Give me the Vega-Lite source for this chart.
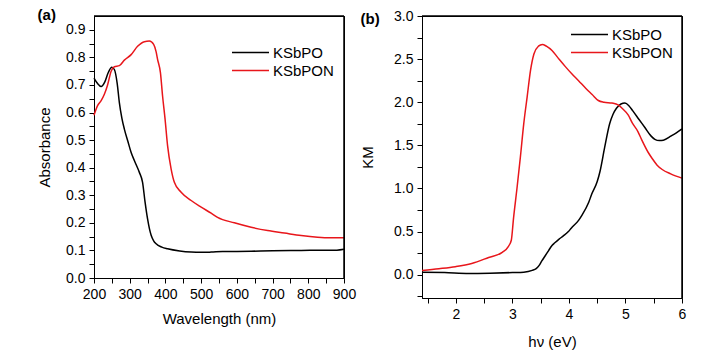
{
  "$schema": "https://vega.github.io/schema/vega-lite/v6.json",
  "background": "white",
  "padding": {"left": 37, "top": 7, "right": 5, "bottom": 5},
  "spacing": 3,
  "config": {
    "view": {"stroke": "#000000", "strokeWidth": 1},
    "axis": {
      "zindex": 0,
      "grid": false,
      "domainColor": "#000000",
      "tickColor": "#000000",
      "labelColor": "#000000",
      "titleColor": "#000000",
      "labelFont": "Liberation Sans",
      "titleFont": "Liberation Sans",
      "labelFontSize": 14,
      "titleFontSize": 15,
      "titleFontWeight": "normal",
      "labelPadding": 4,
      "labelOverlap": false,
      "labelFlush": false,
      "ticks": true,
      "tickSize": 5,
      "tickWidth": 1
    },
    "legend": {
      "orient": "none",
      "labelFont": "Liberation Sans",
      "labelFontSize": 15,
      "labelColor": "#000000",
      "symbolType": "stroke",
      "symbolSize": 1369,
      "symbolStrokeWidth": 1.5,
      "labelOffset": 3,
      "rowPadding": 2,
      "clipHeight": 15,
      "padding": 0,
      "title": null
    },
    "title": {"font": "Liberation Sans", "fontSize": 15, "fontWeight": "bold", "color": "#000000", "anchor": "start", "frame": "bounds", "offset": 0, "baseline": "alphabetic"}
  },
  "datasets": {
    "uv": [
      {"wl": 200, "A": 0.725, "sample": "KSbPO"},
      {"wl": 210, "A": 0.705, "sample": "KSbPO"},
      {"wl": 220, "A": 0.694, "sample": "KSbPO"},
      {"wl": 230, "A": 0.71, "sample": "KSbPO"},
      {"wl": 240, "A": 0.745, "sample": "KSbPO"},
      {"wl": 250, "A": 0.764, "sample": "KSbPO"},
      {"wl": 257, "A": 0.756, "sample": "KSbPO"},
      {"wl": 265, "A": 0.705, "sample": "KSbPO"},
      {"wl": 271, "A": 0.636, "sample": "KSbPO"},
      {"wl": 278, "A": 0.58, "sample": "KSbPO"},
      {"wl": 285, "A": 0.54, "sample": "KSbPO"},
      {"wl": 295, "A": 0.495, "sample": "KSbPO"},
      {"wl": 304, "A": 0.455, "sample": "KSbPO"},
      {"wl": 315, "A": 0.42, "sample": "KSbPO"},
      {"wl": 327, "A": 0.383, "sample": "KSbPO"},
      {"wl": 336, "A": 0.347, "sample": "KSbPO"},
      {"wl": 343, "A": 0.275, "sample": "KSbPO"},
      {"wl": 350, "A": 0.214, "sample": "KSbPO"},
      {"wl": 355, "A": 0.18, "sample": "KSbPO"},
      {"wl": 360, "A": 0.155, "sample": "KSbPO"},
      {"wl": 367, "A": 0.135, "sample": "KSbPO"},
      {"wl": 374, "A": 0.124, "sample": "KSbPO"},
      {"wl": 390, "A": 0.112, "sample": "KSbPO"},
      {"wl": 406, "A": 0.106, "sample": "KSbPO"},
      {"wl": 440, "A": 0.098, "sample": "KSbPO"},
      {"wl": 472, "A": 0.094, "sample": "KSbPO"},
      {"wl": 500, "A": 0.093, "sample": "KSbPO"},
      {"wl": 528, "A": 0.094, "sample": "KSbPO"},
      {"wl": 560, "A": 0.096, "sample": "KSbPO"},
      {"wl": 640, "A": 0.097, "sample": "KSbPO"},
      {"wl": 700, "A": 0.099, "sample": "KSbPO"},
      {"wl": 780, "A": 0.1, "sample": "KSbPO"},
      {"wl": 850, "A": 0.101, "sample": "KSbPO"},
      {"wl": 880, "A": 0.101, "sample": "KSbPO"},
      {"wl": 900, "A": 0.104, "sample": "KSbPO"},
      {"wl": 200, "A": 0.59, "sample": "KSbPON"},
      {"wl": 210, "A": 0.625, "sample": "KSbPON"},
      {"wl": 220, "A": 0.643, "sample": "KSbPON"},
      {"wl": 229, "A": 0.666, "sample": "KSbPON"},
      {"wl": 238, "A": 0.7, "sample": "KSbPON"},
      {"wl": 248, "A": 0.75, "sample": "KSbPON"},
      {"wl": 257, "A": 0.766, "sample": "KSbPON"},
      {"wl": 271, "A": 0.77, "sample": "KSbPON"},
      {"wl": 285, "A": 0.79, "sample": "KSbPON"},
      {"wl": 304, "A": 0.81, "sample": "KSbPON"},
      {"wl": 322, "A": 0.84, "sample": "KSbPON"},
      {"wl": 341, "A": 0.857, "sample": "KSbPON"},
      {"wl": 355, "A": 0.859, "sample": "KSbPON"},
      {"wl": 367, "A": 0.847, "sample": "KSbPON"},
      {"wl": 374, "A": 0.82, "sample": "KSbPON"},
      {"wl": 378, "A": 0.793, "sample": "KSbPON"},
      {"wl": 386, "A": 0.745, "sample": "KSbPON"},
      {"wl": 392, "A": 0.66, "sample": "KSbPON"},
      {"wl": 399, "A": 0.576, "sample": "KSbPON"},
      {"wl": 406, "A": 0.48, "sample": "KSbPON"},
      {"wl": 416, "A": 0.395, "sample": "KSbPON"},
      {"wl": 425, "A": 0.347, "sample": "KSbPON"},
      {"wl": 444, "A": 0.311, "sample": "KSbPON"},
      {"wl": 472, "A": 0.281, "sample": "KSbPON"},
      {"wl": 500, "A": 0.257, "sample": "KSbPON"},
      {"wl": 528, "A": 0.235, "sample": "KSbPON"},
      {"wl": 546, "A": 0.22, "sample": "KSbPON"},
      {"wl": 593, "A": 0.2, "sample": "KSbPON"},
      {"wl": 640, "A": 0.184, "sample": "KSbPON"},
      {"wl": 686, "A": 0.172, "sample": "KSbPON"},
      {"wl": 733, "A": 0.163, "sample": "KSbPON"},
      {"wl": 780, "A": 0.154, "sample": "KSbPON"},
      {"wl": 826, "A": 0.148, "sample": "KSbPON"},
      {"wl": 860, "A": 0.146, "sample": "KSbPON"},
      {"wl": 900, "A": 0.146, "sample": "KSbPON"}
    ],
    "km": [
      {"E": 1.4, "KM": 0.03, "sample": "KSbPO"},
      {"E": 1.8, "KM": 0.025, "sample": "KSbPO"},
      {"E": 2.23, "KM": 0.015, "sample": "KSbPO"},
      {"E": 2.6, "KM": 0.018, "sample": "KSbPO"},
      {"E": 3.0, "KM": 0.025, "sample": "KSbPO"},
      {"E": 3.2, "KM": 0.03, "sample": "KSbPO"},
      {"E": 3.35, "KM": 0.05, "sample": "KSbPO"},
      {"E": 3.42, "KM": 0.07, "sample": "KSbPO"},
      {"E": 3.47, "KM": 0.105, "sample": "KSbPO"},
      {"E": 3.52, "KM": 0.16, "sample": "KSbPO"},
      {"E": 3.58, "KM": 0.22, "sample": "KSbPO"},
      {"E": 3.64, "KM": 0.28, "sample": "KSbPO"},
      {"E": 3.7, "KM": 0.34, "sample": "KSbPO"},
      {"E": 3.75, "KM": 0.37, "sample": "KSbPO"},
      {"E": 3.82, "KM": 0.41, "sample": "KSbPO"},
      {"E": 3.9, "KM": 0.45, "sample": "KSbPO"},
      {"E": 3.99, "KM": 0.5, "sample": "KSbPO"},
      {"E": 4.04, "KM": 0.54, "sample": "KSbPO"},
      {"E": 4.17, "KM": 0.63, "sample": "KSbPO"},
      {"E": 4.22, "KM": 0.68, "sample": "KSbPO"},
      {"E": 4.35, "KM": 0.84, "sample": "KSbPO"},
      {"E": 4.4, "KM": 0.93, "sample": "KSbPO"},
      {"E": 4.5, "KM": 1.08, "sample": "KSbPO"},
      {"E": 4.55, "KM": 1.2, "sample": "KSbPO"},
      {"E": 4.63, "KM": 1.47, "sample": "KSbPO"},
      {"E": 4.72, "KM": 1.75, "sample": "KSbPO"},
      {"E": 4.78, "KM": 1.86, "sample": "KSbPO"},
      {"E": 4.84, "KM": 1.93, "sample": "KSbPO"},
      {"E": 4.92, "KM": 1.98, "sample": "KSbPO"},
      {"E": 4.99, "KM": 1.99, "sample": "KSbPO"},
      {"E": 5.06, "KM": 1.96, "sample": "KSbPO"},
      {"E": 5.13, "KM": 1.9, "sample": "KSbPO"},
      {"E": 5.24, "KM": 1.8, "sample": "KSbPO"},
      {"E": 5.34, "KM": 1.71, "sample": "KSbPO"},
      {"E": 5.45, "KM": 1.61, "sample": "KSbPO"},
      {"E": 5.52, "KM": 1.57, "sample": "KSbPO"},
      {"E": 5.6, "KM": 1.555, "sample": "KSbPO"},
      {"E": 5.67, "KM": 1.56, "sample": "KSbPO"},
      {"E": 5.81, "KM": 1.61, "sample": "KSbPO"},
      {"E": 5.9, "KM": 1.645, "sample": "KSbPO"},
      {"E": 6.0, "KM": 1.69, "sample": "KSbPO"},
      {"E": 1.4, "KM": 0.05, "sample": "KSbPON"},
      {"E": 1.7, "KM": 0.07, "sample": "KSbPON"},
      {"E": 1.99, "KM": 0.093, "sample": "KSbPON"},
      {"E": 2.28, "KM": 0.13, "sample": "KSbPON"},
      {"E": 2.58, "KM": 0.2, "sample": "KSbPON"},
      {"E": 2.82, "KM": 0.26, "sample": "KSbPON"},
      {"E": 2.93, "KM": 0.33, "sample": "KSbPON"},
      {"E": 2.98, "KM": 0.4, "sample": "KSbPON"},
      {"E": 3.02, "KM": 0.66, "sample": "KSbPON"},
      {"E": 3.08, "KM": 1.0, "sample": "KSbPON"},
      {"E": 3.14, "KM": 1.36, "sample": "KSbPON"},
      {"E": 3.2, "KM": 1.75, "sample": "KSbPON"},
      {"E": 3.26, "KM": 2.06, "sample": "KSbPON"},
      {"E": 3.32, "KM": 2.37, "sample": "KSbPON"},
      {"E": 3.38, "KM": 2.56, "sample": "KSbPON"},
      {"E": 3.46, "KM": 2.65, "sample": "KSbPON"},
      {"E": 3.53, "KM": 2.67, "sample": "KSbPON"},
      {"E": 3.6, "KM": 2.65, "sample": "KSbPON"},
      {"E": 3.7, "KM": 2.6, "sample": "KSbPON"},
      {"E": 3.8, "KM": 2.52, "sample": "KSbPON"},
      {"E": 3.94, "KM": 2.41, "sample": "KSbPON"},
      {"E": 4.05, "KM": 2.33, "sample": "KSbPON"},
      {"E": 4.17, "KM": 2.25, "sample": "KSbPON"},
      {"E": 4.3, "KM": 2.16, "sample": "KSbPON"},
      {"E": 4.41, "KM": 2.09, "sample": "KSbPON"},
      {"E": 4.52, "KM": 2.02, "sample": "KSbPON"},
      {"E": 4.62, "KM": 2.0, "sample": "KSbPON"},
      {"E": 4.76, "KM": 1.99, "sample": "KSbPON"},
      {"E": 4.87, "KM": 1.97, "sample": "KSbPON"},
      {"E": 4.94, "KM": 1.93, "sample": "KSbPON"},
      {"E": 5.05, "KM": 1.85, "sample": "KSbPON"},
      {"E": 5.12, "KM": 1.76, "sample": "KSbPON"},
      {"E": 5.22, "KM": 1.66, "sample": "KSbPON"},
      {"E": 5.29, "KM": 1.56, "sample": "KSbPON"},
      {"E": 5.4, "KM": 1.42, "sample": "KSbPON"},
      {"E": 5.47, "KM": 1.35, "sample": "KSbPON"},
      {"E": 5.56, "KM": 1.27, "sample": "KSbPON"},
      {"E": 5.65, "KM": 1.22, "sample": "KSbPON"},
      {"E": 5.8, "KM": 1.17, "sample": "KSbPON"},
      {"E": 6.0, "KM": 1.12, "sample": "KSbPON"}
    ]
  },
  "resolve": {"scale": {"color": "independent"}, "legend": {"color": "independent"}},
  "hconcat": [
    {
      "width": 250,
      "height": 262,
      "title": {"text": "(a)", "dy": 12},
      "resolve": {"scale": {"x": "independent", "y": "independent"}, "axis": {"x": "independent", "y": "independent"}},
      "layer": [
        {
          "data": {"name": "uv"},
          "mark": {"type": "line", "interpolate": "monotone", "strokeWidth": 1.5},
          "encoding": {
            "x": {
              "field": "wl", "type": "quantitative",
              "scale": {"domain": [200, 900], "nice": false},
              "axis": {
                "orient": "bottom",
                "title": "Wavelength (nm)", "titlePadding": 10,
                "values": [200, 250, 300, 350, 400, 450, 500, 550, 600, 650, 700, 750, 800, 850, 900],
                "labelExpr": "datum.value % 100 === 0 ? datum.label : ''",
                "format": "d",
                "encode": {"ticks": {"update": {"y2": {"signal": "datum.value % 100 === 0 ? 5 : 3"}}}}
              }
            },
            "y": {
              "field": "A", "type": "quantitative",
              "scale": {"domain": [0, 0.95], "nice": false},
              "axis": {
                "orient": "left",
                "title": "Absorbance", "titlePadding": 13,
                "values": [0, 0.05, 0.1, 0.15, 0.2, 0.25, 0.3, 0.35, 0.4, 0.45, 0.5, 0.55, 0.6, 0.65, 0.7, 0.75, 0.8, 0.85, 0.9],
                "format": ".1f",
                "labelExpr": "abs(datum.value*10 - round(datum.value*10)) < 0.001 ? datum.label : ''",
                "encode": {"ticks": {"update": {"x2": {"signal": "abs(datum.value*10 - round(datum.value*10)) < 0.001 ? -5 : -3"}}}}
              }
            },
            "color": {
              "field": "sample", "type": "nominal",
              "scale": {"domain": ["KSbPO", "KSbPON"], "range": ["#000000", "#e8161b"]},
              "legend": {"legendX": 137, "legendY": 29}
            }
          }
        },
        {
          "data": {"values": [{"top": 0.95, "right": 900}]},
          "mark": {"type": "rule", "color": "#000000", "strokeWidth": 1.5},
          "encoding": {"y": {"field": "top", "type": "quantitative", "scale": {"domain": [0, 0.95], "nice": false}, "axis": null}}
        },
        {
          "data": {"values": [{"top": 0.95, "right": 900}]},
          "mark": {"type": "rule", "color": "#000000", "strokeWidth": 1.5},
          "encoding": {"x": {"field": "right", "type": "quantitative", "scale": {"domain": [200, 900], "nice": false}, "axis": null}}
        }
      ]
    },
    {
      "width": 260,
      "height": 282,
      "title": {"text": "(b)", "dy": 22},
      "resolve": {"scale": {"x": "independent", "y": "independent"}, "axis": {"x": "independent", "y": "independent"}},
      "layer": [
        {
          "data": {"name": "km"},
          "mark": {"type": "line", "interpolate": "monotone", "strokeWidth": 1.5},
          "encoding": {
            "x": {
              "field": "E", "type": "quantitative",
              "scale": {"domain": [1.4, 6], "nice": false, "zero": false},
              "axis": {
                "orient": "bottom",
                "title": "hν (eV)", "titlePadding": 13,
                "values": [1.5, 2, 2.5, 3, 3.5, 4, 4.5, 5, 5.5, 6],
                "labelExpr": "datum.value % 1 === 0 ? format(datum.value, 'd') : ''",
                "encode": {"ticks": {"update": {"y2": {"signal": "datum.value % 1 === 0 ? 5 : 3"}}}}
              }
            },
            "y": {
              "field": "KM", "type": "quantitative",
              "scale": {"domain": [-0.27, 3.0], "nice": false, "zero": false},
              "axis": {
                "orient": "left",
                "title": "KM", "titlePadding": 18,
                "values": [-0.25, 0, 0.25, 0.5, 0.75, 1, 1.25, 1.5, 1.75, 2, 2.25, 2.5, 2.75, 3],
                "format": ".1f",
                "labelExpr": "abs(datum.value*2 - round(datum.value*2)) < 0.001 ? datum.label : ''",
                "encode": {"ticks": {"update": {"x2": {"signal": "abs(datum.value*2 - round(datum.value*2)) < 0.001 ? -5 : -3"}}}}
              }
            },
            "color": {
              "field": "sample", "type": "nominal",
              "scale": {"domain": ["KSbPO", "KSbPON"], "range": ["#000000", "#e8161b"]},
              "legend": {"legendX": 148, "legendY": 11}
            }
          }
        },
        {
          "data": {"values": [{"top": 3.0, "right": 6}]},
          "mark": {"type": "rule", "color": "#000000", "strokeWidth": 1.5},
          "encoding": {"y": {"field": "top", "type": "quantitative", "scale": {"domain": [-0.27, 3.0], "nice": false, "zero": false}, "axis": null}}
        },
        {
          "data": {"values": [{"top": 3.0, "right": 6}]},
          "mark": {"type": "rule", "color": "#000000", "strokeWidth": 1.5},
          "encoding": {"x": {"field": "right", "type": "quantitative", "scale": {"domain": [1.4, 6], "nice": false, "zero": false}, "axis": null}}
        }
      ]
    }
  ]
}
